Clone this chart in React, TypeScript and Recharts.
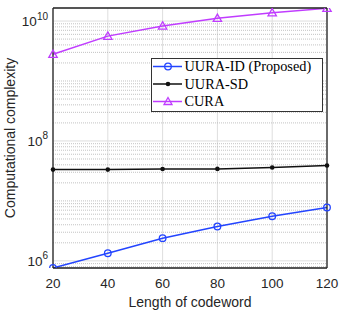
import React from 'react';
import { LineChart, Line, XAxis, YAxis, CartesianGrid, ReferenceLine, Legend } from 'recharts';

const codewordLengths = [20, 40, 60, 80, 100, 120];
const uuraIdValues = [7.6e5, 1.34e6, 2.39e6, 3.74e6, 5.56e6, 7.76e6];
const uuraSdValues = [3.33e7, 3.33e7, 3.4e7, 3.42e7, 3.6e7, 3.9e7];
const curaValues = [2.8e9, 5.6e9, 8.3e9, 1.11e10, 1.38e10, 1.63e10];

const xTicks = [20, 40, 60, 80, 100, 120];
const yMajorTicks = [1e6, 1e8, 1e10];
const yDomain: [number, number] = [7.6e5, 1.65e10];

const seriesNames = ['UURA-ID (Proposed)', 'UURA-SD', 'CURA'];
const seriesColors = ['#2344ff', '#111111', '#c03cff'];

const data = codewordLengths.map((n, i) => ({
  n,
  id: uuraIdValues[i],
  sd: uuraSdValues[i],
  cura: curaValues[i],
}));

const minorTicks: number[] = [];
for (let e = 5; e <= 10; e++) {
  for (let k = 1; k <= 9; k++) {
    const v = k * Math.pow(10, e);
    if (v >= yDomain[0] && v <= yDomain[1]) minorTicks.push(v);
  }
}
const minorGrid = minorTicks.filter((v) => !yMajorTicks.includes(v));

const SANS = '"Liberation Sans", Arial, sans-serif';
const SERIF = '"Liberation Serif", "DejaVu Serif", serif';

const YTick = (props: any) => {
  const { x, y, payload } = props;
  const exp = Math.round(Math.log10(payload.value));
  return (
    <text x={x} y={y + 5.3} textAnchor="end" fontFamily={SANS} fill="#262626">
      <tspan fontSize={13.5}>10</tspan>
      <tspan fontSize={10} dy={-6.8}>{exp}</tspan>
    </text>
  );
};

const Triangle = (props: any) => {
  const { cx, cy, index } = props;
  if (cx == null || cy == null) return <g key={`t${index}`} />;
  const s = 4.2;
  return (
    <path
      key={`t${index}`}
      d={`M${cx},${cy - s} L${cx + s},${cy + s * 0.75} L${cx - s},${cy + s * 0.75} Z`}
      fill="none"
      stroke={seriesColors[2]}
      strokeWidth={1.3}
    />
  );
};

const markerFor = (name: string, cx: number, cy: number, color: string) => {
  if (name === seriesNames[0]) return <circle cx={cx} cy={cy} r={3.3} fill="none" stroke={color} strokeWidth={1.3} />;
  if (name === seriesNames[1]) return <circle cx={cx} cy={cy} r={2.3} fill={color} />;
  const s = 4;
  return (
    <path d={`M${cx},${cy - s} L${cx + s},${cy + s * 0.75} L${cx - s},${cy + s * 0.75} Z`} fill="none" stroke={color} strokeWidth={1.3} />
  );
};

const LegendBox = (props: any) => {
  const payload = props.payload || [];
  const ordered = seriesNames
    .map((name) => payload.find((p: any) => p.value === name))
    .filter(Boolean);
  return (
    <svg width={172} height={54} style={{ display: 'block' }}>
      <rect x={0.5} y={0.5} width={171} height={53} fill="#fff" stroke="#333" strokeWidth={1} />
      {ordered.map((p: any, i: number) => {
        const cy = 8.5 + i * 17.5;
        return (
          <g key={p.value}>
            <line x1={2} x2={31} y1={cy} y2={cy} stroke={p.color} strokeWidth={1.5} />
            {markerFor(p.value, 17, cy, p.color)}
            <text x={33.5} y={cy + 4.8} fontFamily={SERIF} fontSize={14.3} fill="#000">
              {p.value}
            </text>
          </g>
        );
      })}
    </svg>
  );
};

const YLabel = (props: any) => {
  const vb = props.viewBox || {};
  const cx = 10;
  const cy = vb.y + vb.height / 2;
  return (
    <text
      x={cx}
      y={cy}
      transform={`rotate(-90, ${cx}, ${cy})`}
      textAnchor="middle"
      dominantBaseline="central"
      fontFamily={SANS}
      fontSize={14}
      fill="#262626"
    >
      Computational complexity
    </text>
  );
};

export default function App() {
  return (
    <div style={{ position: 'absolute', left: 0, top: 0, width: 341, height: 313, background: '#fff' }}>
      <LineChart width={341} height={313} data={data} margin={{ top: 8, right: 14, bottom: 0, left: 0 }}>
        <CartesianGrid stroke="#dedede" strokeWidth={1} />
        {minorGrid.map((v) => (
          <ReferenceLine key={`m${v}`} y={v} stroke="#b4b4b4" strokeWidth={0.8} strokeDasharray="1 1" />
        ))}
        <XAxis
          dataKey="n"
          type="number"
          domain={[20, 120]}
          ticks={xTicks}
          interval={0}
          tickLine={false}
          axisLine={{ stroke: '#222', strokeWidth: 1.3 }}
          tick={{ fontSize: 13.5, fill: '#262626', fontFamily: SANS }}
          tickMargin={4}
          height={45}
          label={{ value: 'Length of codeword', position: 'insideBottom', offset: 6, fontSize: 14, fill: '#262626', fontFamily: SANS }}
        />
        <XAxis xAxisId="bt" type="number" domain={[20, 120]} ticks={xTicks} interval={0} mirror tick={false} axisLine={false} tickSize={4} tickLine={{ stroke: '#222' }} />
        <XAxis xAxisId="tp" orientation="top" type="number" domain={[20, 120]} ticks={xTicks} interval={0} mirror tick={false} axisLine={{ stroke: '#222', strokeWidth: 1.3 }} tickSize={4} tickLine={{ stroke: '#222' }} />
        <YAxis
          type="number"
          scale="log"
          domain={yDomain}
          allowDataOverflow
          ticks={yMajorTicks}
          interval={0}
          tickLine={false}
          tickSize={5}
          tickMargin={0}
          width={53}
          axisLine={{ stroke: '#222', strokeWidth: 1.3 }}
          tick={<YTick />}
          label={<YLabel />}
        />
        <YAxis yAxisId="lm" type="number" scale="log" domain={yDomain} allowDataOverflow ticks={minorTicks} interval={0} mirror tick={false} axisLine={false} tickSize={2.5} tickLine={{ stroke: '#222' }} />
        <YAxis yAxisId="rm" orientation="right" type="number" scale="log" domain={yDomain} allowDataOverflow ticks={minorTicks} interval={0} mirror tick={false} axisLine={{ stroke: '#222', strokeWidth: 1.3 }} tickSize={2.5} tickLine={{ stroke: '#222' }} />
        <Line
          dataKey="id"
          name={seriesNames[0]}
          stroke={seriesColors[0]}
          strokeWidth={1.5}
          isAnimationActive={false}
          dot={{ r: 3.3, fill: 'none', stroke: seriesColors[0], strokeWidth: 1.3 }}
        />
        <Line
          dataKey="sd"
          name={seriesNames[1]}
          stroke={seriesColors[1]}
          strokeWidth={1.5}
          isAnimationActive={false}
          dot={{ r: 2.3, fill: seriesColors[1], stroke: 'none' }}
        />
        <Line
          dataKey="cura"
          name={seriesNames[2]}
          stroke={seriesColors[2]}
          strokeWidth={1.5}
          isAnimationActive={false}
          dot={(p: any) => <Triangle {...p} />}
        />
        <Legend
          layout="vertical"
          align="center"
          verticalAlign="middle"
          wrapperStyle={{ left: 151, top: 58, width: 172, height: 54 }}
          content={<LegendBox />}
        />
      </LineChart>
    </div>
  );
}
